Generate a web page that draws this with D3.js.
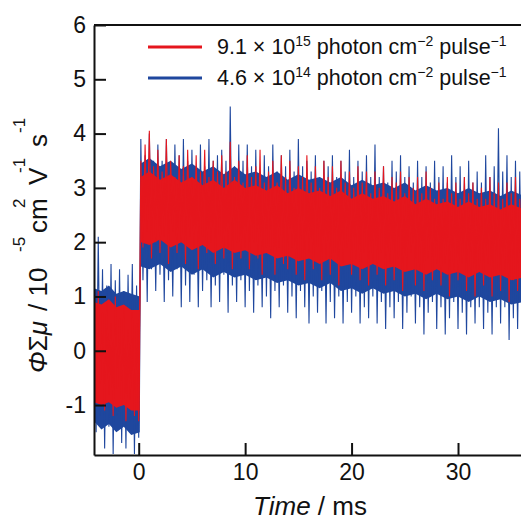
<!DOCTYPE html>
<html>
<head>
<meta charset="utf-8">
<script src="https://cdn.jsdelivr.net/npm/d3@7"></script>
<style>
  body { margin: 0; background: #fff; }
  text { font-family: "Liberation Sans", Arial, sans-serif; fill: #111; }
</style>
</head>
<body>
<div class="chart"></div>
<script>
// sampling: first time (ms) and step between readings
const startTime = -4.2;
const stepTime = 0.2;

// red trace, 9.1e15 photon cm-2 pulse-1 (spike extremes)
const redValues = [
  0.9, -0.9, 1.1, -0.6, 0.7, -1.1, 0.9, -0.8, 0.5, -1.2, 1.0, -0.7, 0.6, -1.0, 0.8, -1.3, 0.4, -0.9, 0.7, -1.2, 0.5, -1.3,
  3.5, 1.9, 3.8, 2.2, 4.05, 1.7, 3.4, 2.0, 3.7, 1.8,
  3.3, 2.1, 3.9, 1.6, 3.5, 2.2, 3.2, 1.8, 3.6, 2.0,
  3.4, 1.6, 3.7, 2.1, 3.2, 1.9, 3.6, 1.5, 3.3, 2.1,
  3.7, 1.8, 3.2, 2.0, 3.5, 1.6, 3.3, 2.1, 3.6, 1.7,
  3.3, 1.9, 3.85, 1.5, 3.2, 2.0, 3.5, 1.7, 3.1, 1.9,
  3.6, 1.5, 3.2, 2.0, 3.4, 1.7, 3.7, 1.4, 3.1, 1.9,
  3.3, 1.8, 3.5, 1.4, 3.1, 1.9, 3.6, 1.6, 3.2, 1.5,
  3.5, 1.9, 3.0, 1.4, 3.4, 1.7, 3.2, 1.3, 3.6, 1.8,
  3.1, 1.5, 3.4, 1.9, 3.0, 1.3, 3.5, 1.7, 3.2, 1.4,
  3.4, 1.8, 3.0, 1.2, 3.5, 1.6, 3.1, 1.9, 3.3, 1.4,
  3.0, 1.7, 3.4, 1.3, 3.1, 1.8, 3.3, 1.2, 2.9, 1.6,
  3.3, 1.4, 3.0, 1.8, 3.4, 1.2, 2.9, 1.6, 3.2, 1.3,
  3.1, 1.7, 3.3, 1.1, 2.9, 1.5, 3.2, 1.8, 3.0, 1.2,
  3.2, 1.5, 2.9, 1.1, 3.3, 1.7, 3.0, 1.3, 2.8, 1.6,
  3.1, 1.2, 2.8, 1.6, 3.2, 1.0, 2.9, 1.5, 3.1, 1.3,
  2.8, 1.6, 3.2, 1.1, 2.9, 1.4, 3.1, 1.0, 2.8, 1.5,
  3.0, 1.2, 2.8, 1.6, 3.2, 1.0, 2.9, 1.4, 3.1, 1.1,
  2.8, 1.5, 3.1, 0.9, 2.9, 1.3, 3.2, 1.1, 2.8, 1.4
];

// blue trace, 4.6e14 photon cm-2 pulse-1
const blueValues = [
  1.3, -1.5, 2.1, -1.2, 1.5, -1.8, 1.2, -1.4, 1.6, -1.9, 1.3, -1.2, 1.5, -1.7, 1.1, -1.8, 1.4, -1.3, 1.6, -1.9, 1.2, -1.6,
  3.9, 1.3, 3.6, 0.9, 4.0, 1.5, 3.5, 1.1, 3.8, 1.4,
  3.5, 0.9, 3.9, 1.3, 3.4, 1.0, 3.8, 1.5, 3.6, 0.8,
  3.9, 1.2, 3.5, 0.9, 3.7, 1.4, 3.4, 0.8, 3.8, 1.1,
  3.4, 1.3, 3.9, 0.8, 3.5, 1.2, 3.6, 0.9, 3.7, 1.4,
  3.5, 0.7, 4.5, 1.2, 3.4, 0.9, 3.8, 1.3, 3.5, 0.8,
  3.8, 1.1, 3.4, 0.7, 3.7, 1.2, 3.3, 0.8, 3.6, 1.0,
  3.4, 0.6, 3.8, 1.1, 3.3, 0.8, 3.6, 1.2, 3.4, 0.7,
  3.7, 1.0, 3.3, 0.6, 3.9, 1.1, 3.4, 0.8, 3.5, 0.5,
  3.3, 1.0, 3.6, 0.7, 3.2, 1.1, 3.5, 0.5, 3.4, 0.9,
  3.6, 0.6, 3.2, 1.0, 3.5, 0.5, 3.3, 0.9, 3.7, 0.7,
  3.2, 1.0, 3.5, 0.5, 3.3, 0.8, 3.6, 0.6, 3.2, 1.0,
  3.8, 0.5, 3.2, 0.9, 3.4, 0.4, 3.1, 0.8, 3.5, 0.6,
  3.3, 0.9, 3.6, 0.4, 3.2, 0.7, 3.4, 1.0, 3.1, 0.5,
  3.5, 0.8, 3.2, 0.3, 3.4, 0.7, 3.1, 0.9, 3.5, 0.4,
  3.2, 0.8, 3.4, 0.3, 3.1, 0.6, 3.6, 0.9, 3.2, 0.4,
  3.4, 0.7, 3.2, 0.3, 3.5, 0.8, 3.1, 0.5, 3.3, 0.8,
  3.1, 0.4, 3.6, 0.7, 3.2, 0.3, 3.4, 0.8, 4.1, 0.5,
  3.3, 0.8, 3.6, 0.2, 3.2, 0.6, 3.5, 0.4, 3.3, 0.7
];

// dense noise core of each trace (lower / upper edge)
const bandTime = [
  -4.2, -3.5, -2.8, -2.1, -1.4, -0.7, 0.1,
  0.2, 1, 2, 3, 4, 5, 6, 7, 8, 9, 10, 11, 12, 13, 14, 15, 16, 17, 18,
  19, 20, 21, 22, 23, 24, 25, 26, 27, 28, 29, 30, 31, 32, 33, 34, 35, 36.2
];
const redLow = [
  -0.95, -1.0, -0.95, -1.05, -1.0, -1.1, -1.1,
  2.0, 1.95, 2.05, 1.9, 2.0, 1.85, 1.95, 1.8, 1.9, 1.8, 1.85, 1.75, 1.8, 1.7, 1.75, 1.65, 1.7, 1.6, 1.7,
  1.55, 1.6, 1.5, 1.6, 1.5, 1.55, 1.45, 1.5, 1.4, 1.5, 1.4, 1.45, 1.35, 1.45, 1.35, 1.4, 1.3, 1.35
];
const redHigh = [
  0.9, 0.85, 0.95, 0.8, 0.85, 0.75, 0.75,
  3.2, 3.3, 3.15, 3.25, 3.1, 3.2, 3.05, 3.15, 3.0, 3.15, 3.0, 3.05, 2.95, 3.05, 2.9, 3.0, 2.9, 2.95, 2.85,
  2.95, 2.8, 2.9, 2.8, 2.85, 2.75, 2.85, 2.7, 2.8, 2.7, 2.75, 2.65, 2.75, 2.65, 2.7, 2.6, 2.7, 2.6
];
const blueLow = [
  -1.3, -1.45, -1.35, -1.5, -1.4, -1.55, -1.5,
  1.55, 1.5, 1.6, 1.45, 1.55, 1.4, 1.5, 1.35, 1.45, 1.35, 1.4, 1.3, 1.35, 1.25, 1.3, 1.2, 1.25, 1.15, 1.25,
  1.1, 1.15, 1.05, 1.15, 1.05, 1.1, 1.0, 1.05, 0.95, 1.05, 0.95, 1.0, 0.9, 1.0, 0.9, 0.95, 0.85, 0.9
];
const blueHigh = [
  1.15, 1.1, 1.2, 1.05, 1.1, 1.05, 1.0,
  3.45, 3.55, 3.4, 3.5, 3.35, 3.45, 3.3, 3.4, 3.25, 3.4, 3.25, 3.3, 3.2, 3.3, 3.15, 3.25, 3.15, 3.2, 3.1,
  3.2, 3.05, 3.15, 3.05, 3.1, 3.0, 3.1, 2.95, 3.05, 2.95, 3.0, 2.9, 3.0, 2.9, 2.95, 2.85, 2.95, 2.85
];

const xTicks = [0, 10, 20, 30];
const yTicks = [-1, 0, 1, 2, 3, 4, 5, 6];

const w = 521;
const h = 520;
const margin = { top: 25, right: -3, bottom: 65, left: 94 };

const red = '#e5161d';
const blue = '#1f479e';

const x = d3.scaleLinear()
            .domain([-4.2, 36.2])
            .range([margin.left, w - margin.right]);

const y = d3.scaleLinear()
            .domain([-1.92, 6])
            .range([h - margin.bottom, margin.top]);

const svg = d3.select('.chart')
              .append('svg')
              .attr('width', w)
              .attr('height', h);

svg.append('clipPath')
   .attr('id', 'plot')
   .append('rect')
   .attr('x', margin.left)
   .attr('y', margin.top)
   .attr('width', w - margin.right - margin.left)
   .attr('height', h - margin.bottom - margin.top);

const plot = svg.append('g').attr('clip-path', 'url(#plot)');

const band = (lo, hi) => d3.area()
  .x((d, i) => x(bandTime[i]))
  .y0((d, i) => y(lo[i]))
  .y1((d, i) => y(hi[i]));

const trace = d3.line()
  .x((d, i) => x(startTime + i * stepTime))
  .y(d => y(d));

plot.append('path')
    .attr('d', band(blueLow, blueHigh)(bandTime))
    .attr('fill', blue);

plot.append('path')
    .attr('d', trace(blueValues))
    .attr('fill', 'none')
    .attr('stroke', blue)
    .attr('stroke-width', 1.1);

plot.append('path')
    .attr('d', band(redLow, redHigh)(bandTime))
    .attr('fill', red);

plot.append('path')
    .attr('d', trace(redValues))
    .attr('fill', 'none')
    .attr('stroke', red)
    .attr('stroke-width', 1.1);

// axes, ticks pointing inward
const xAxis = d3.axisBottom(x)
                .tickValues(xTicks)
                .tickSizeInner(-12)
                .tickSizeOuter(0)
                .tickPadding(9)
                .tickFormat(d => d);

const yAxis = d3.axisLeft(y)
                .tickValues(yTicks)
                .tickSizeInner(-12)
                .tickSizeOuter(0)
                .tickPadding(8)
                .tickFormat(d => d);

const gx = svg.append('g')
              .attr('transform', `translate(0, ${h - margin.bottom})`)
              .call(xAxis);

const gy = svg.append('g')
              .attr('transform', `translate(${margin.left}, 0)`)
              .call(yAxis);

[gx, gy].forEach(g => {
  g.select('.domain').attr('stroke', '#111').attr('stroke-width', 2);
  g.selectAll('.tick line').attr('stroke', '#111').attr('stroke-width', 2);
  g.selectAll('.tick text')
   .attr('font-family', null)
   .attr('font-size', null)
   .style('font-size', '23px');
});

svg.append('line')
   .attr('x1', margin.left)
   .attr('x2', w - margin.right)
   .attr('y1', margin.top)
   .attr('y2', margin.top)
   .attr('stroke', '#111')
   .attr('stroke-width', 2);

// axis titles
const xTitle = svg.append('text')
                  .attr('x', 310)
                  .attr('y', 515)
                  .style('text-anchor', 'middle')
                  .style('font-size', '26px');
xTitle.append('tspan').style('font-style', 'italic').text('Time');
xTitle.append('tspan').text(' / ms');

const yTitle = svg.append('text')
                  .attr('transform', 'translate(47, 373) rotate(-90)')
                  .style('font-size', '26px');
yTitle.append('tspan').attr('x', 0).attr('y', 0).style('font-style', 'italic').text('Φ');
yTitle.append('tspan').text('Σ');
yTitle.append('tspan').style('font-style', 'italic').text('μ');
yTitle.append('tspan').attr('x', 62).text('/ 10');
yTitle.append('tspan').attr('x', 121).attr('y', -22).style('font-size', '17px').text('-5');
yTitle.append('tspan').attr('x', 140).attr('y', 0).text('cm');
yTitle.append('tspan').attr('x', 165).attr('y', -22).style('font-size', '17px').text('2');
yTitle.append('tspan').attr('x', 188).attr('y', 0).text('V');
yTitle.append('tspan').attr('x', 200).attr('y', -22).style('font-size', '17px').text('-1');
yTitle.append('tspan').attr('x', 226).attr('y', 0).text('s');
yTitle.append('tspan').attr('x', 240).attr('y', -22).style('font-size', '17px').text('-1');

// legend
const legendItems = [
  { color: red, mant: '9.1', exp: '15' },
  { color: blue, mant: '4.6', exp: '14' }
];

legendItems.forEach((d, i) => {
  const ly = 47 + i * 31;
  svg.append('line')
     .attr('x1', 148)
     .attr('x2', 202)
     .attr('y1', ly)
     .attr('y2', ly)
     .attr('stroke', d.color)
     .attr('stroke-width', 3);

  const t = svg.append('text')
               .attr('x', 217)
               .attr('y', ly + 7)
               .style('font-size', '21.5px');
  t.append('tspan').text(`${d.mant} × 10`);
  t.append('tspan').attr('dy', -8).style('font-size', '14px').text(d.exp);
  t.append('tspan').attr('dy', 8).text(' photon cm');
  t.append('tspan').attr('dy', -8).style('font-size', '14px').text('−2');
  t.append('tspan').attr('dy', 8).text(' pulse');
  t.append('tspan').attr('dy', -8).style('font-size', '14px').text('−1');
});
</script>
</body>
</html>
